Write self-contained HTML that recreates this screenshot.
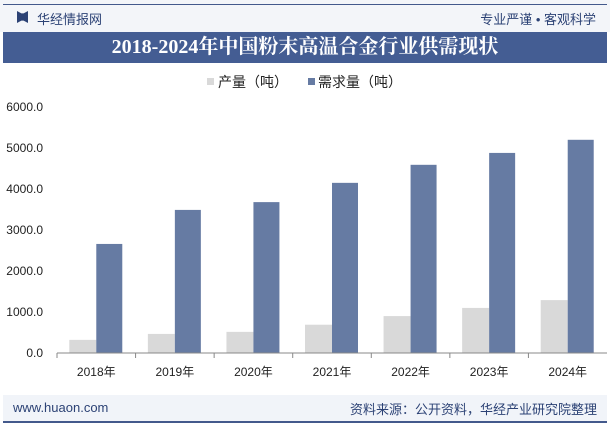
<!DOCTYPE html>
<html><head><meta charset="utf-8"><style>
body{margin:0;width:610px;height:427px;background:#fff;font-family:"Liberation Sans","Noto Sans CJK SC",sans-serif;position:relative;overflow:hidden}
.top{position:absolute;left:0;top:0;width:610px;height:32px;background:#f3f5f9}
.topline{position:absolute;left:3px;top:4px;width:604px;height:1px;background:#43598c}
.title{position:absolute;left:3px;top:32px;width:604px;height:31px;background:#445d93;color:#fff;font:bold 20px "Liberation Serif","Noto Serif CJK SC",serif;text-align:center;line-height:31px}
.foot{position:absolute;left:3px;top:395px;width:604px;height:26px;background:#f1f4f9}
.footline{position:absolute;left:3px;top:421px;width:604px;height:2px;background:#43598c}
</style></head><body>
<div class="top"></div>
<div class="topline"></div>
<div style="position:absolute;left:17px;top:11px;width:11px;height:12px;background:#2c4275;clip-path:polygon(0 0,40% 20%,60% 20%,100% 0,100% 100%,60% 80%,40% 80%,0 100%)"></div>
<div style="position:absolute;left:37px;top:9px;font-size:13px;color:#2c4275">华经情报网</div>
<div style="position:absolute;right:14px;top:9px;font-size:13px;color:#2c4275">专业严谨 • 客观科学</div>
<div class="title">2018-2024年中国粉末高温合金行业供需现状</div>
<svg id="c" width="610" height="395" style="position:absolute;left:0;top:0"></svg>
<div class="foot"></div>
<div class="footline"></div>
<div style="position:absolute;left:13px;top:400px;font-size:13px;color:#2c4275">www.huaon.com</div>
<div style="position:absolute;right:13px;top:399px;font-size:13px;color:#2c4275">资料来源：公开资料，华经产业研究院整理</div>
<script>
const categories=["2018年","2019年","2020年","2021年","2022年","2023年","2024年"];
const production=[320,465,515,690,900,1100,1290];
const demand=[2660,3490,3680,4150,4590,4880,5200];
const yTicks=[0,1000,2000,3000,4000,5000,6000];
const ns="http://www.w3.org/2000/svg",svg=document.getElementById('c');
const x0=57,x1=607,y0=353,y1=107,yMax=6000;
const y=v=>y0-(v/yMax)*(y0-y1);
const bw=(x1-x0)/categories.length;
function el(t,a,txt){const e=document.createElementNS(ns,t);for(const k in a)e.setAttribute(k,a[k]);if(txt!=null)e.textContent=txt;svg.appendChild(e);return e;}
yTicks.forEach(v=>{const t=el('text',{x:43,y:y(v)+4,'text-anchor':'end','font-size':12,fill:'#222'},v.toFixed(1));

});
categories.forEach((c,i)=>{const cx=x0+bw*(i+0.5);
const r1=el('rect',{x:cx-27,y:y(production[i]),width:27,height:y0-y(production[i]),fill:'#d9d9d9'});


const r2=el('rect',{x:cx,y:y(demand[i]),width:26,height:y0-y(demand[i]),fill:'#667ba3'});


const t=el('text',{x:cx,y:376,'text-anchor':'middle','font-size':12,fill:'#222'},c);


const tk=el('line',{x1:x0+bw*i,x2:x0+bw*i,y1:y0,y2:y0+5,stroke:'#888'});

});
const ax=el('line',{x1:x0,x2:x1,y1:y0,y2:y0,stroke:'#888'});


const l1=el('rect',{x:207,y:78,width:7,height:7,fill:'#d9d9d9'});


const lt1=el('text',{x:218,y:87,'font-size':14,fill:'#222'},'产量（吨）');


const l2=el('rect',{x:308,y:78,width:7,height:7,fill:'#667ba3'});


const lt2=el('text',{x:318,y:87,'font-size':14,fill:'#222'},'需求量（吨）');


</script>
</body></html>
